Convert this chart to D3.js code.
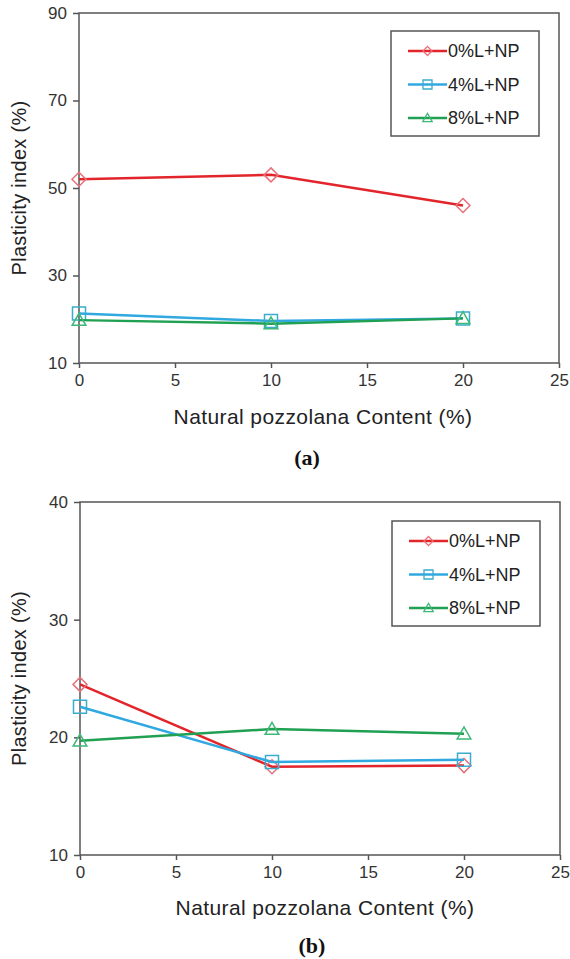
<!DOCTYPE html>
<html>
<head>
<meta charset="utf-8">
<script src="https://cdn.jsdelivr.net/npm/d3@7"></script>
<style>
  body { margin: 0; background: #fff; }
  svg { display: block; font-family: "Liberation Sans", Arial, sans-serif; }
</style>
</head>
<body>
<div class="chart-container"></div>
<script>
(function() {
  ////////////////////////////////////////////////////////////
  //// Data //////////////////////////////////////////////////
  ////////////////////////////////////////////////////////////
  const npContent = [0, 10, 20];
  const seriesNames = ["0%L+NP", "4%L+NP", "8%L+NP"];
  const xTicks = [0, 5, 10, 15, 20, 25];

  // panel (a)
  const piA0 = [52, 53, 46];
  const piA4 = [21.3, 19.6, 20.2];
  const piA8 = [19.8, 19.0, 20.2];
  const yTicksA = [10, 30, 50, 70, 90];

  // panel (b)
  const piB0 = [24.5, 17.5, 17.6];
  const piB4 = [22.6, 17.9, 18.1];
  const piB8 = [19.7, 20.7, 20.3];
  const yTicksB = [10, 20, 30, 40];

  ////////////////////////////////////////////////////////////
  //// Setup /////////////////////////////////////////////////
  ////////////////////////////////////////////////////////////
  const chartWidth = 570;
  const chartHeight = 959;
  const lineColors = ["#e2252b", "#30a8e0", "#20a052"];
  const markerColors = ["#e8707c", "#3aaccc", "#3cb878"];
  const markerTypes = ["diamond", "square", "triangle"];
  const frameColor = "#555";

  const svg = d3
    .select(".chart-container")
    .append("svg")
    .attr("width", chartWidth)
    .attr("height", chartHeight)
    .attr("viewBox", [0, 0, chartWidth, chartHeight]);

  function markerPath(type, s) {
    if (type === "diamond") {
      return `M0,${-s} L${s},0 L0,${s} L${-s},0 Z`;
    } else if (type === "square") {
      return `M${-s},${-s} H${s} V${s} H${-s} Z`;
    }
    return `M0,${-s * 1.05} L${s * 1.05},${s * 0.8} L${-s * 1.05},${s * 0.8} Z`;
  }

  function drawPanel(p) {
    const width = p.right - p.left;
    const height = p.bottom - p.top;

    const xScale = d3.scaleLinear().domain([0, 25]).range([0, width]);
    const yScale = d3.scaleLinear().domain(p.yDomain).range([height, 0]);

    const g = svg
      .append("g")
      .attr("transform", `translate(${p.left},${p.top})`);

    // axes
    g.append("g")
      .attr("transform", `translate(0,${height})`)
      .call(d3.axisBottom(xScale).tickValues(xTicks).tickSize(5).tickPadding(6))
      .call(g => g.select(".domain").remove())
      .call(g => g.selectAll(".tick line").attr("stroke", frameColor).attr("stroke-width", 1.5))
      .call(g =>
        g.selectAll(".tick text")
          .attr("fill", "#333")
          .style("font-size", "17px")
          .style("font-family", "'Liberation Sans', Arial, sans-serif")
      );

    g.append("g")
      .call(d3.axisLeft(yScale).tickValues(p.yTicks).tickSize(6).tickPadding(6))
      .call(g => g.select(".domain").remove())
      .call(g => g.selectAll(".tick line").attr("stroke", frameColor).attr("stroke-width", 1.5))
      .call(g =>
        g.selectAll(".tick text")
          .attr("fill", "#333")
          .style("font-size", "17px")
          .style("font-family", "'Liberation Sans', Arial, sans-serif")
      );

    // frame
    g.append("rect")
      .attr("width", width)
      .attr("height", height)
      .attr("fill", "none")
      .attr("stroke", frameColor)
      .attr("stroke-width", 1.5);

    // series
    const line = d3
      .line()
      .x((d, i) => xScale(npContent[i]))
      .y(d => yScale(d));

    p.series.forEach((values, k) => {
      g.append("path")
        .datum(values)
        .attr("fill", "none")
        .attr("stroke", lineColors[k])
        .attr("stroke-width", 2.5)
        .attr("d", line);
      g.append("g")
        .selectAll("path")
        .data(values)
        .join("path")
        .attr("transform", (d, i) => `translate(${xScale(npContent[i])},${yScale(d)})`)
        .attr("d", markerPath(markerTypes[k], k === 0 ? 7 : 6.5))
        .attr("fill", "none")
        .attr("stroke", markerColors[k])
        .attr("stroke-width", 1.5);
    });

    // axis titles
    g.append("text")
      .attr("x", p.xTitleX - p.left)
      .attr("y", p.xTitleY - p.top)
      .attr("text-anchor", "middle")
      .attr("dy", "0.35em")
      .attr("fill", "#222")
      .style("font-size", "21px")
      .style("letter-spacing", "0.4px")
      .text("Natural pozzolana Content (%)");

    g.append("text")
      .attr("transform", `translate(${19 - p.left},${height / 2}) rotate(-90)`)
      .attr("text-anchor", "middle")
      .attr("dy", "0.35em")
      .attr("fill", "#222")
      .style("font-size", "20px")
      .style("letter-spacing", "0.3px")
      .text("Plasticity index (%)");

    // panel label
    svg.append("text")
      .attr("x", p.labelX)
      .attr("y", p.labelY)
      .attr("text-anchor", "middle")
      .attr("dy", "0.35em")
      .attr("fill", "#111")
      .style("font-family", "'Liberation Serif', 'Times New Roman', serif")
      .style("font-weight", "bold")
      .style("font-size", "22px")
      .text(p.label);

    // legend
    const lg = svg
      .append("g")
      .attr("transform", `translate(${p.legend.x},${p.legend.y})`);
    lg.append("rect")
      .attr("width", 148)
      .attr("height", 105)
      .attr("fill", "#fff")
      .attr("stroke", frameColor)
      .attr("stroke-width", 1.5);
    const rows = lg
      .selectAll("g.row")
      .data(seriesNames)
      .join("g")
      .attr("class", "row")
      .attr("transform", (d, i) => `translate(0,${20 + i * 33.5})`);
    rows.append("line")
      .attr("x1", 17)
      .attr("x2", 56)
      .attr("stroke", (d, i) => lineColors[i])
      .attr("stroke-width", 2.5);
    rows.append("path")
      .attr("transform", "translate(36.5,0)")
      .attr("d", (d, i) => markerPath(markerTypes[i], 4.5))
      .attr("fill", "none")
      .attr("stroke", (d, i) => markerColors[i])
      .attr("stroke-width", 1.3);
    rows.append("text")
      .attr("x", 57)
      .attr("dy", "0.35em")
      .attr("fill", "#222")
      .style("font-size", "18px")
      .text(d => d);
  }

  ////////////////////////////////////////////////////////////
  //// Panels ////////////////////////////////////////////////
  ////////////////////////////////////////////////////////////
  drawPanel({
    left: 79, right: 559, top: 13, bottom: 363,
    yDomain: [10, 90], yTicks: yTicksA,
    series: [piA0, piA4, piA8],
    xTitleX: 323, xTitleY: 417,
    label: "(a)", labelX: 307, labelY: 457,
    legend: { x: 391, y: 31 }
  });

  drawPanel({
    left: 80, right: 560, top: 502, bottom: 855,
    yDomain: [10, 40], yTicks: yTicksB,
    series: [piB0, piB4, piB8],
    xTitleX: 325, xTitleY: 908,
    label: "(b)", labelX: 312, labelY: 945,
    legend: { x: 392, y: 521 }
  });
})();
</script>
</body>
</html>
